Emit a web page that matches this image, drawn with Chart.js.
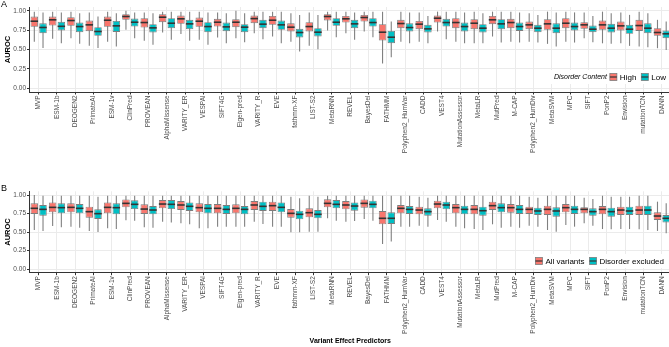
<!DOCTYPE html>
<html>
<head>
<meta charset="utf-8">
<script src="https://cdn.jsdelivr.net/npm/chart.js@4.4.1/dist/chart.umd.min.js"></script>
<style>
  html, body { margin:0; padding:0; background:#ffffff; overflow:hidden; width:669px; height:347px; }
  #wrapA { position:absolute; left:0; top:0; width:671px; height:178px; }
  #wrapB { position:absolute; left:0; top:178px; width:671px; height:169px; }
</style>
</head>
<body>
<div id="wrapA"><canvas id="chartA" width="671" height="178"></canvas></div>
<div id="wrapB"><canvas id="chartB" width="671" height="169"></canvas></div>
<script>
// ---------- data ----------
const predictors = ["MVP","ESM-1b","DEOGEN2","PrimateAI","ESM-1v","ClinPred","PROVEAN","AlphaMissense","VARITY_ER","VESPAl","SIFT4G","Eigen-pred","VARITY_R","EVE","fathmm-XF","LIST-S2","MetaRNN","REVEL","BayesDel","FATHMM","Polyphen2_HumVar","CADD","VEST4","MutationAssessor","MetaLR","MutPred","M-CAP","Polyphen2_HumDiv","MetaSVM","MPC","SIFT","PonP2","Envision","mutationTCN","DANN"];

const yTicks = [0, 0.25, 0.5, 0.75, 1];
const yTickLabels = ["0.00", "0.25", "0.50", "0.75", "1.00"];

// each entry: [lower whisker, Q1, median, Q3, upper whisker]
const highDisorder = [
 [.60,.793,.866,.927,.99],[.638,.81,.884,.927,.99],[.647,.806,.875,.918,.99],[.55,.737,.819,.875,.98],
 [.60,.793,.879,.927,.99],[.754,.884,.927,.957,1.0],[.612,.784,.849,.905,.98],[.72,.853,.918,.957,.99],
 [.70,.832,.897,.94,.99],[.625,.793,.866,.914,.99],[.655,.797,.853,.897,.98],[.647,.789,.853,.893,1.0],
 [.71,.84,.90,.94,.99],[.668,.819,.879,.935,.99],[.60,.733,.789,.84,.97],[.547,.733,.797,.853,.98],
 [.745,.875,.927,.957,.99],[.711,.849,.897,.935,.99],[.733,.862,.914,.948,.99],[.32,.616,.724,.828,.99],
 [.60,.776,.836,.884,.99],[.60,.763,.828,.87,.98],[.733,.849,.905,.94,.99],[.60,.776,.849,.905,.99],
 [.58,.763,.84,.893,.99],[.668,.828,.884,.935,.99],[.60,.776,.849,.897,.99],[.60,.763,.819,.862,.97],
 [.573,.754,.832,.893,.99],[.60,.776,.84,.905,.99],[.647,.767,.819,.853,.98],[.58,.754,.819,.875,.99],
 [.58,.746,.806,.862,.98],[.54,.741,.81,.884,.99],[.517,.677,.72,.776,.884]
];
const lowDisorder = [
 [.52,.71,.785,.84,.98],[.58,.746,.80,.858,.98],[.573,.724,.797,.849,.97],[.52,.677,.733,.789,.927],
 [.54,.728,.806,.87,.97],[.647,.797,.853,.90,.98],[.56,.72,.78,.828,.97],[.625,.776,.84,.905,.99],
 [.612,.763,.832,.884,.99],[.56,.724,.797,.853,.98],[.58,.737,.793,.849,.97],[.595,.724,.789,.828,.97],
 [.634,.776,.828,.884,.99],[.58,.754,.819,.875,.99],[.474,.655,.72,.767,.948],[.504,.668,.724,.776,.948],
 [.66,.806,.853,.905,.99],[.625,.776,.832,.884,.98],[.66,.797,.849,.905,.99],[.40,.582,.659,.741,.862],
 [.58,.733,.784,.84,.98],[.58,.72,.767,.819,.935],[.634,.797,.849,.897,.99],[.58,.733,.797,.849,.98],
 [.58,.72,.776,.828,.97],[.59,.763,.832,.893,.99],[.59,.741,.797,.849,.98],[.59,.724,.776,.819,.948],
 [.54,.711,.776,.84,.98],[.59,.746,.797,.849,.98],[.595,.724,.763,.81,.935],[.573,.72,.776,.832,.97],
 [.547,.703,.763,.819,.948],[.53,.711,.776,.84,.97],[.495,.647,.703,.746,.862]
];
const allVariants = [
 [.527,.743,.82,.887,1.0],[.58,.766,.833,.90,.99],[.572,.766,.833,.887,.99],[.514,.694,.775,.842,.99],
 [.55,.752,.833,.90,.99],[.66,.833,.887,.94,.99],[.563,.743,.81,.874,.99],[.64,.82,.878,.932,.99],
 [.617,.797,.865,.919,.99],[.55,.766,.829,.887,.99],[.572,.752,.82,.878,.99],[.572,.752,.82,.874,.99],
 [.64,.797,.865,.919,.99],[.572,.784,.856,.91,.99],[.495,.694,.752,.81,.977],[.505,.698,.761,.82,.99],
 [.685,.833,.887,.941,.99],[.64,.806,.865,.919,.99],[.676,.829,.887,.94,.99],[.338,.604,.685,.784,.99],
 [.572,.752,.82,.865,.99],[.585,.739,.797,.842,.977],[.662,.82,.878,.923,.99],[.572,.752,.829,.878,.99],
 [.54,.739,.806,.865,.99],[.604,.797,.856,.91,.99],[.572,.761,.829,.878,.99],[.585,.743,.806,.842,.977],
 [.527,.73,.806,.856,.99],[.595,.766,.829,.878,.99],[.617,.752,.806,.833,.964],[.54,.739,.806,.851,.99],
 [.54,.73,.797,.842,.977],[.536,.73,.797,.856,.99],[.514,.662,.716,.766,.91]
];
const disorderExcluded = [
 [.514,.72,.806,.865,.99],[.563,.752,.829,.887,.99],[.558,.752,.82,.878,.99],[.50,.676,.748,.806,.977],
 [.54,.739,.829,.887,.99],[.653,.81,.874,.928,.99],[.558,.739,.797,.851,.99],[.63,.81,.874,.932,.99],
 [.604,.784,.847,.90,.99],[.55,.752,.82,.878,.99],[.572,.743,.806,.865,.99],[.572,.739,.806,.851,.99],
 [.608,.784,.847,.91,.99],[.572,.766,.833,.90,.99],[.495,.671,.739,.788,.955],[.505,.685,.739,.797,.977],
 [.653,.82,.874,.932,.99],[.65,.788,.851,.90,.99],[.653,.82,.874,.923,.99],[.37,.608,.685,.766,.99],
 [.572,.743,.806,.851,.99],[.572,.72,.775,.82,.964],[.64,.806,.865,.91,.99],[.55,.739,.806,.856,.99],
 [.527,.72,.788,.842,.99],[.558,.766,.829,.887,.99],[.558,.743,.806,.865,.99],[.572,.73,.784,.829,.964],
 [.505,.707,.784,.833,.99],[.572,.743,.806,.856,.99],[.585,.72,.775,.82,.946],[.536,.707,.775,.829,.977],
 [.54,.73,.784,.842,.977],[.527,.73,.797,.856,.99],[.482,.63,.685,.73,.887]
];

// ---------- styling ----------
const RED = '#F8766D', TEAL = '#00BFC4';
const FONT = "'Liberation Sans', Arial, sans-serif";
const BOX_BORDER = '#7d7d7d', WHISKER = '#808080', MEDIAN = '#333333';

const boxPlugin = {
  id: 'boxWhiskers',
  beforeDatasetsDraw(chart) {
    const ctx = chart.ctx, ys = chart.scales.y;
    ctx.save();
    chart.data.datasets.forEach((ds, di) => {
      chart.getDatasetMeta(di).data.forEach((bar, i) => {
        const s = ds.stats[i];
        ctx.strokeStyle = WHISKER; ctx.lineWidth = 1.1;
        ctx.beginPath();
        ctx.moveTo(bar.x, ys.getPixelForValue(s[0]));
        ctx.lineTo(bar.x, ys.getPixelForValue(s[4]));
        ctx.stroke();
      });
    });
    ctx.restore();
  },
  afterDatasetsDraw(chart) {
    const ctx = chart.ctx, ys = chart.scales.y;
    ctx.save();
    chart.data.datasets.forEach((ds, di) => {
      chart.getDatasetMeta(di).data.forEach((bar, i) => {
        const s = ds.stats[i];
        const yy = ys.getPixelForValue(s[2]);
        ctx.strokeStyle = MEDIAN; ctx.lineWidth = 1.6;
        ctx.beginPath();
        ctx.moveTo(bar.x - bar.width / 2, yy);
        ctx.lineTo(bar.x + bar.width / 2, yy);
        ctx.stroke();
      });
    });
    ctx.restore();
  }
};

const decoPlugin = {
  id: 'deco',
  afterDraw(chart, args, opts) {
    const ctx = chart.ctx;
    ctx.save();
    // panel tag
    ctx.fillStyle = '#000';
    ctx.font = `9px ${FONT}`;
    ctx.textBaseline = 'alphabetic';
    ctx.textAlign = 'left';
    ctx.fillText(opts.tag, 1, opts.tagY);
    // legend
    const cy = opts.legendY;
    const keyW = 7, gapK = 3, gapI = 5, gapT = 3;
    ctx.font = `${opts.itemSize}px ${FONT}`;
    const widths = opts.items.map(it => ctx.measureText(it.label).width);
    let titleW = 0;
    if (opts.title) { ctx.font = `italic 7px ${FONT}`; titleW = ctx.measureText(opts.title).width + gapT; }
    let total = titleW;
    opts.items.forEach((it, k) => { total += keyW + gapK + widths[k] + (k < opts.items.length - 1 ? gapI : 0); });
    let x = opts.legendRight - total;
    ctx.fillStyle = '#fff';
    ctx.fillRect(x - 3, cy - 7, total + 6, 14);
    ctx.textBaseline = 'middle';
    if (opts.title) {
      ctx.fillStyle = '#000'; ctx.font = `italic 7px ${FONT}`;
      ctx.fillText(opts.title, x, cy);
      x += titleW;
    }
    opts.items.forEach((it, k) => {
      ctx.fillStyle = it.color;
      ctx.fillRect(x, cy - keyW / 2, keyW, keyW);
      ctx.strokeStyle = BOX_BORDER; ctx.lineWidth = 0.8;
      ctx.strokeRect(x, cy - keyW / 2, keyW, keyW);
      ctx.strokeStyle = MEDIAN; ctx.lineWidth = 1.2;
      ctx.beginPath(); ctx.moveTo(x, cy); ctx.lineTo(x + keyW, cy); ctx.stroke();
      x += keyW + gapK;
      ctx.fillStyle = '#000'; ctx.font = `${opts.itemSize}px ${FONT}`;
      ctx.fillText(it.label, x, cy + 0.5);
      x += widths[k] + gapI;
    });
    ctx.restore();
  }
};

function buildChart(id, seriesA, seriesB, nameA, nameB, cfg) {
  const mk = (name, stats, color) => ({
    label: name,
    data: stats.map(s => [s[1], s[3]]),
    stats: stats,
    backgroundColor: color,
    borderColor: BOX_BORDER,
    borderWidth: 0.9,
    borderSkipped: false,
    categoryPercentage: 0.95,
    barPercentage: 0.86
  });
  return new Chart(document.getElementById(id), {
    type: 'bar',
    data: { labels: predictors, datasets: [mk(nameA, seriesA, RED), mk(nameB, seriesB, TEAL)] },
    options: {
      responsive: false,
      animation: false,
      devicePixelRatio: 1,
      layout: { padding: { top: cfg.padTop, left: 0, right: 0, bottom: 0 } },
      plugins: {
        legend: { display: false },
        tooltip: { enabled: false },
        deco: cfg.deco
      },
      scales: {
        x: {
          type: 'category',
          offset: true,
          grid: { offset: false, color: '#ebebeb', lineWidth: 1, tickColor: '#333', tickLength: 2.5 },
          border: { display: true, color: '#333', width: 1 },
          ticks: { autoSkip: false, maxRotation: 90, minRotation: 90, padding: 1,
                   font: { family: FONT, size: 6.5 }, color: '#4d4d4d' },
          title: cfg.xTitle ? { display: true, text: cfg.xTitle, color: '#000',
                   font: { family: FONT, size: 7, weight: 'bold' }, padding: { top: 1.5, bottom: 1.5 } } : { display: false },
          afterFit: s => { s.height = cfg.xHeight; }
        },
        y: {
          min: -0.05, max: 1.05,
          afterBuildTicks: s => { s.ticks = yTicks.map(v => ({ value: v })); },
          grid: { color: '#ebebeb', lineWidth: 1, tickColor: '#333', tickLength: 2.5 },
          border: { display: true, color: '#333', width: 1 },
          ticks: { padding: 1, font: { family: FONT, size: 6.5 }, color: '#4d4d4d',
                   callback: (v, i) => yTickLabels[i] },
          title: { display: true, text: 'AUROC', color: '#000',
                   font: { family: FONT, size: 7.5, weight: 'bold' }, padding: { top: 3.5, bottom: 2.5 } },
          afterFit: s => { s.width = 29.5; }
        }
      }
    },
    plugins: [boxPlugin, decoPlugin]
  });
}

buildChart('chartA', highDisorder, lowDisorder, 'High', 'Low', {
  padTop: 7, xHeight: 86,
  deco: { tag: 'A', tagY: 7, legendY: 77, legendRight: 666, itemSize: 8, title: 'Disorder Content',
          items: [{ label: 'High', color: RED }, { label: 'Low', color: TEAL }] }
});
buildChart('chartB', allVariants, disorderExcluded, 'All variants', 'Disorder excluded', {
  padTop: 13.3, xHeight: 74.3, xTitle: 'Variant Effect Predictors',
  deco: { tag: 'B', tagY: 13, legendY: 83, legendRight: 664, itemSize: 8, title: null,
          items: [{ label: 'All variants', color: RED }, { label: 'Disorder excluded', color: TEAL }] }
});
</script>
</body>
</html>
